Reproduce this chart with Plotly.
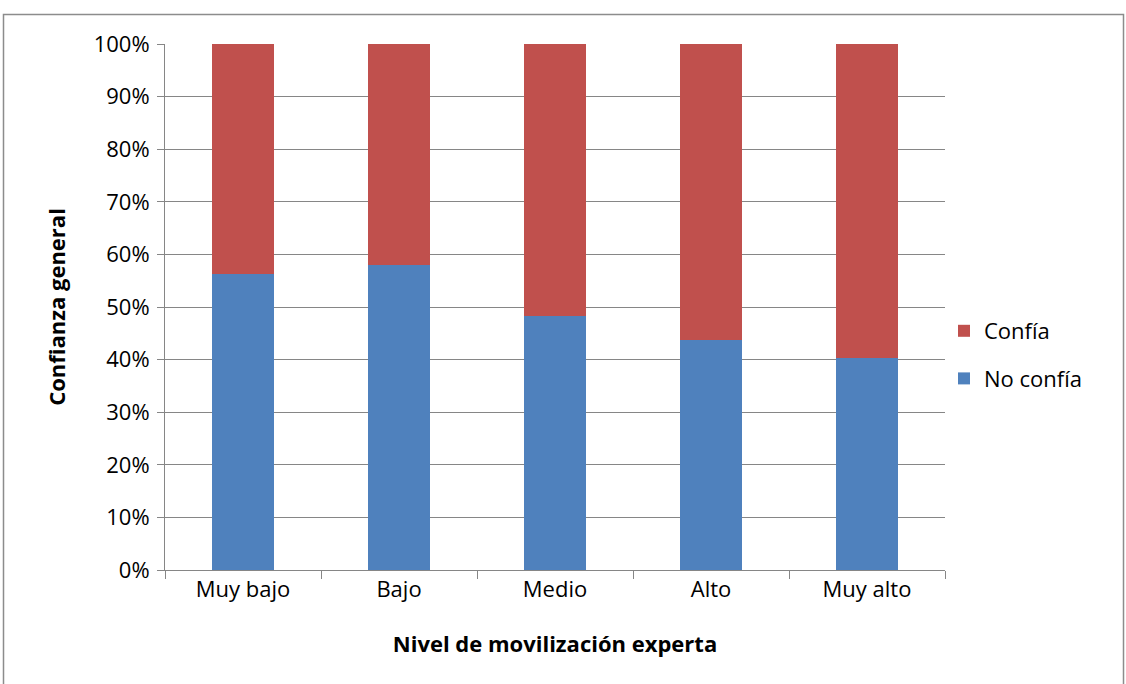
import plotly.graph_objects as go

categories = ["Muy bajo", "Bajo", "Medio", "Alto", "Muy alto"]
no_confia = [56.3, 57.9, 48.2, 43.8, 40.3]
confia = [43.7, 42.1, 51.8, 56.2, 59.7]
y_ticks = [0, 10, 20, 30, 40, 50, 60, 70, 80, 90, 100]
y_tick_labels = [f"{v}%" for v in y_ticks]

FONT = "Open Sans"
BLUE = "#4F81BD"
RED = "#C0504D"
GRID = "#868686"

fig = go.Figure()
fig.add_trace(go.Bar(x=categories, y=no_confia, name="No confía", legendgroup="nc",
                     legendrank=2, marker=dict(color=BLUE, line=dict(width=0))))
fig.add_trace(go.Bar(x=categories, y=confia, name="Confía", legendgroup="c",
                     legendrank=1, marker=dict(color=RED, line=dict(width=0))))

W, H = 1126, 684
L, T = 165, 44
pw, ph = 780, 526
R, B = W - L - pw, H - T - ph

def px_x(x):
    return (x - L) / pw

def px_y(y):
    return (T + ph - y) / ph

fig.update_layout(
    width=W, height=H,
    barmode="stack", bargap=0.6,
    margin=dict(l=L, r=R, t=T, b=B, pad=0),
    paper_bgcolor="white", plot_bgcolor="white",
    font=dict(family=FONT, size=22, color="#000000"),
    showlegend=True,
    legend=dict(traceorder="grouped", x=px_x(944), y=px_y(310),
                xanchor="left", yanchor="top",
                font=dict(family=FONT, size=22), itemsizing="constant",
                tracegroupgap=16, bgcolor="rgba(0,0,0,0)"),
    xaxis=dict(
        showline=True, linecolor=GRID, linewidth=1,
        ticks="outside", tickson="boundaries", ticklen=8, tickcolor=GRID,
        showgrid=False,
        tickfont=dict(family=FONT, size=22),
        title=dict(text="<b>Nivel de movilización experta</b>",
                   font=dict(family=FONT, size=22), standoff=34),
    ),
    yaxis=dict(
        range=[0, 100], tickvals=y_ticks, ticktext=y_tick_labels,
        showline=True, linecolor=GRID, linewidth=1,
        ticks="outside", ticklen=7, tickcolor=GRID,
        ticklabelstandoff=3,
        showgrid=True, gridcolor=GRID, gridwidth=1.2,
        zeroline=False,
        tickfont=dict(family=FONT, size=22),
        title=dict(text="<b>Confianza general</b>",
                   font=dict(family=FONT, size=22), standoff=21),
    ),
    shapes=[dict(type="rect", xref="paper", yref="paper",
                 x0=px_x(3.5), x1=px_x(1123.5), y0=px_y(720), y1=px_y(14.5),
                 line=dict(color="#8C8C8C", width=1.5), layer="below")],
)

fig.write_html("out.html", config={"displayModeBar": False},
               post_script="document.body.style.margin='0px';document.body.style.overflow='hidden';")
